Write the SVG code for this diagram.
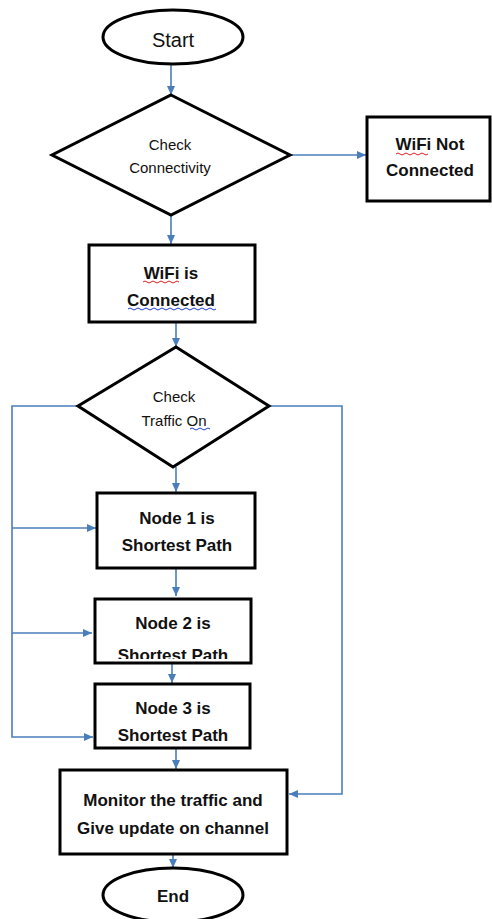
<svg xmlns="http://www.w3.org/2000/svg" width="492" height="919" viewBox="0 0 492 919">
<style>
.shape{fill:#fff;stroke:#000;stroke-width:3}
.conn{fill:none;stroke:#4a7ebb;stroke-width:1.6}
.t{font-family:"Liberation Sans",Arial,sans-serif;text-anchor:middle;fill:#111}
.b{font-weight:bold;font-size:17px}
.d{font-size:15px}
.sq{fill:none;stroke-width:1}
</style>
<defs>
<marker id="ah" markerUnits="userSpaceOnUse" markerWidth="9" markerHeight="8" refX="9" refY="4" orient="auto">
<path d="M0,0 L9,4 L0,8 z" fill="#4a7ebb"/>
</marker>
<clipPath id="clip2"><rect x="95" y="599" width="156" height="60"/></clipPath>
</defs>
<rect width="492" height="919" fill="#fff"/>
<g id="connectors" class="conn">
<path d="M171,64 L171,95" marker-end="url(#ah)"/>
<path d="M290,155 L366,155" marker-end="url(#ah)"/>
<path d="M171,215 L171,244" marker-end="url(#ah)"/>
<path d="M176,322 L176,347" marker-end="url(#ah)"/>
<path d="M176,467 L176,492" marker-end="url(#ah)"/>
<path d="M78,406 L12,406 L12,737 L93,737" marker-end="url(#ah)"/>
<path d="M12,528 L96,528" marker-end="url(#ah)"/>
<path d="M12,633 L92,633" marker-end="url(#ah)"/>
<path d="M176,568 L176,596" marker-end="url(#ah)"/>
<path d="M172,663 L172,683" marker-end="url(#ah)"/>
<path d="M176,748 L176,769" marker-end="url(#ah)"/>
<path d="M269,406 L342,406 L342,794 L289,794" marker-end="url(#ah)"/>
<path d="M173,854 L173,868" marker-end="url(#ah)"/>
</g>
<g id="start">
<ellipse class="shape" cx="173" cy="37" rx="70" ry="27"/>
<text class="t" x="173" y="47" font-size="20">Start</text>
</g>
<g id="check-connectivity">
<polygon class="shape" points="171,95 290,155 171,215 52,155"/>
<text class="t d" x="170" y="150">Check</text>
<text class="t d" x="170" y="173">Connectivity</text>
</g>
<g id="wifi-not-connected">
<rect class="shape" x="367" y="117" width="123" height="84"/>
<text class="t b" x="430" y="150">WiFi Not</text>
<text class="t b" x="430" y="176">Connected</text>
<path class="sq" stroke="#e02020" d="M396,154 q2,-2 4,0 t4,0 t4,0 t4,0 t4,0 t4,0 t4,0 t4,0"/>
</g>
<g id="wifi-connected">
<rect class="shape" x="89" y="245" width="166" height="77"/>
<text class="t b" x="171" y="279">WiFi is</text>
<text class="t b" x="171" y="306">Connected</text>
<path class="sq" stroke="#e02020" d="M143,282 q2,-2 4,0 t4,0 t4,0 t4,0 t4,0 t4,0 t4,0 t4,0 t4,0"/>
<path class="sq" stroke="#2040d0" d="M128,309 q2,-2 4,0 t4,0 t4,0 t4,0 t4,0 t4,0 t4,0 t4,0 t4,0 t4,0 t4,0 t4,0 t4,0 t4,0 t4,0 t4,0 t4,0 t4,0 t4,0 t4,0 t4,0 t4,0"/>
</g>
<g id="check-traffic">
<polygon class="shape" points="176,347 269,406 173,467 78,406"/>
<text class="t d" x="174" y="402">Check</text>
<text class="t d" x="174" y="426">Traffic On</text>
<path class="sq" stroke="#2040d0" d="M190,429 q2,-2 4,0 t4,0 t4,0 t4,0 t4,0"/>
</g>
<g id="node1">
<rect class="shape" x="97" y="493" width="158" height="75"/>
<text class="t b" x="177" y="524">Node 1 is</text>
<text class="t b" x="177" y="551">Shortest Path</text>
</g>
<g id="node2">
<rect class="shape" x="95" y="599" width="156" height="64"/>
<text class="t b" x="173" y="629">Node 2 is</text>
<text class="t b" x="173" y="661" clip-path="url(#clip2)">Shortest Path</text>
</g>
<g id="node3">
<rect class="shape" x="95" y="684" width="155" height="64"/>
<text class="t b" x="173" y="714">Node 3 is</text>
<text class="t b" x="173" y="741">Shortest Path</text>
</g>
<g id="monitor">
<rect class="shape" x="60" y="770" width="227" height="84"/>
<text class="t b" x="173" y="806">Monitor the traffic and</text>
<text class="t b" x="173" y="834">Give update on channel</text>
</g>
<g id="end">
<ellipse class="shape" cx="173" cy="895" rx="70" ry="27"/>
<text class="t" x="173" y="902" font-size="17" font-weight="bold">End</text>
</g>
</svg>
